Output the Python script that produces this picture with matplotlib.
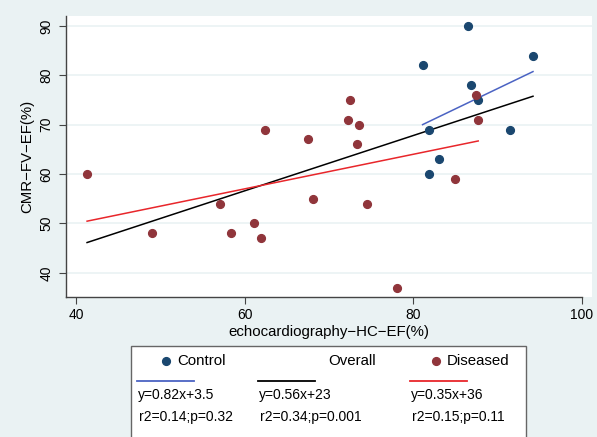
import matplotlib
matplotlib.use("Agg")
import matplotlib.pyplot as plt
import numpy as np
from matplotlib.lines import Line2D
from matplotlib.patches import Rectangle

plt.rcParams['font.family'] = ['Liberation Sans', 'DejaVu Sans']

# echo EF (x) vs CMR EF (y)
control_x = [86.5, 94.2, 81.1, 86.8, 87.7, 81.9, 91.5, 83.1, 81.9]
control_y = [90, 84, 82, 78, 75, 69, 69, 63, 60]
diseased_x = [41.3, 49.0, 57.1, 58.4, 61.1, 61.9, 62.4, 67.5, 68.1,
              72.5, 72.2, 73.5, 73.3, 74.5, 78.1, 84.9, 87.4, 87.7]
diseased_y = [60, 48, 54, 48, 50, 47, 69, 67, 55,
              75, 71, 70, 66, 54, 37, 59, 76, 71]

# fitted lines as printed in the legend
fit_names = ["Control", "Overall", "Diseased"]
fit_slope = [0.82, 0.56, 0.35]
fit_icept = [3.5, 23, 36]
fit_eq = ["y=0.82x+3.5", "y=0.56x+23", "y=0.35x+36"]
fit_stats = ["r2=0.14;p=0.32", "r2=0.34;p=0.001", "r2=0.15;p=0.11"]

navy = "#1a476f"
maroon = "#90353b"
line_cols = ["#4b63c3", "black", "#e8262b"]
bg = "#eaf2f3"

W, H = 597, 437
fig = plt.figure(figsize=(W / 100, H / 100), dpi=100)
fig.patch.set_facecolor(bg)
ax = fig.add_axes([66 / W, 1 - 297 / H, 526 / W, 281 / H])
ax.set_facecolor("white")

ax.set_xlim(38.8, 101.2)
ax.set_ylim(35.1, 92.0)
ax.set_xticks([40, 60, 80, 100])
ax.set_yticks([40, 50, 60, 70, 80, 90])
ax.grid(axis="y", color=bg, linewidth=1.2)
ax.set_axisbelow(True)
for s in ["top", "right"]:
    ax.spines[s].set_visible(False)
ax.spines["bottom"].set_bounds(38.8, 100)
for s in ["left", "bottom"]:
    ax.spines[s].set_color("#444444")
    ax.spines[s].set_linewidth(1.0)
ax.tick_params(axis="both", length=5, color="#444444", labelsize=10)
ax.tick_params(axis="x", pad=3)
ax.tick_params(axis="y", pad=4)
for lab in ax.get_yticklabels():
    lab.set_rotation(90)
    lab.set_va("center")

groups_x = [control_x, control_x + diseased_x, diseased_x]
for gx, m, b, c in zip(groups_x, fit_slope, fit_icept, line_cols):
    xs = np.array([min(gx), max(gx)])
    ax.plot(xs, m * xs + b, color=c, linewidth=1.1, zorder=2)

ax.plot(control_x, control_y, "o", color=navy, markersize=5.6, zorder=3)
ax.plot(diseased_x, diseased_y, "o", color=maroon, markersize=5.6, zorder=3)

ax.set_xlabel("echocardiography\u2212HC\u2212EF(%)", fontsize=10.8, labelpad=2)
ax.set_ylabel("CMR\u2212FV\u2212EF(%)", fontsize=10.8, labelpad=4)

# legend box, drawn by hand (Stata style, runs off the bottom)
def fx(px):
    return px / W

def fy(py):
    return 1 - py / H

fig.add_artist(Rectangle((fx(131), fy(460)), fx(526) - fx(131), fy(346) - fy(460),
                         transform=fig.transFigure, facecolor="white",
                         edgecolor="#666666", linewidth=1.0))

col_x = [138, 259, 411]
fig.add_artist(Line2D([fx(166)], [fy(361)], marker="o", color=navy, markersize=5.6,
                      transform=fig.transFigure))
fig.text(fx(177), fy(361), fit_names[0], fontsize=10.8, va="center")
fig.text(fx(328), fy(361), fit_names[1], fontsize=10.8, va="center")
fig.add_artist(Line2D([fx(436)], [fy(361)], marker="o", color=maroon, markersize=5.6,
                      transform=fig.transFigure))
fig.text(fx(447), fy(361), fit_names[2], fontsize=10.8, va="center")

for x0, c, eq, st in zip(col_x, line_cols, fit_eq, fit_stats):
    fig.add_artist(Line2D([fx(x0 - 1), fx(x0 + 56)], [fy(381), fy(381)], color=c,
                          linewidth=1.3, transform=fig.transFigure))
    fig.text(fx(x0), fy(395), eq, fontsize=10, va="center")
    fig.text(fx(x0 + 1), fy(417), st, fontsize=10, va="center")

fig.savefig("out.png", dpi=100, facecolor=bg)
